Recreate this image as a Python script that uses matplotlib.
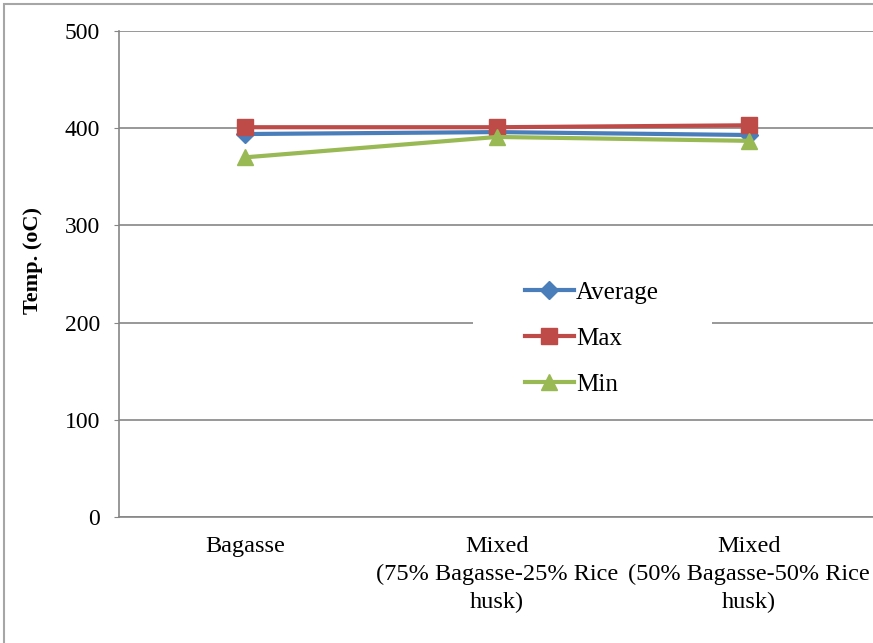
import matplotlib
matplotlib.use("Agg")
import matplotlib.pyplot as plt
from matplotlib.patches import Rectangle

categories = ["Bagasse",
              "Mixed\n(75% Bagasse-25% Rice\nhusk)",
              "Mixed\n(50% Bagasse-50% Rice\nhusk)"]
average = [394, 396, 393]
maximum = [401, 401, 403]
minimum = [370, 391, 387]
y_ticks = [0, 100, 200, 300, 400, 500]

plt.rcParams["font.family"] = ["Liberation Serif", "DejaVu Serif"]

W, H = 873, 643
fig = plt.figure(figsize=(W / 100, H / 100), dpi=100)
ax = fig.add_axes([119 / W, (H - 517) / H, 756 / W, 486 / H])

# outer chart border
fig.patches.append(Rectangle((4 / W, -0.01), 1.0, (H - 4) / H + 0.01,
                             transform=fig.transFigure, fill=False,
                             edgecolor="#a6a6a6", linewidth=1.5, zorder=0))

x = list(range(len(categories)))
ax.plot(x, average, color="#4A7EBB", linewidth=3, marker="D", markersize=9,
        label="Average", zorder=3)
ax.plot(x, maximum, color="#BE4B48", linewidth=3, marker="s", markersize=11,
        label="Max", zorder=4)
ax.plot(x, minimum, color="#98B954", linewidth=3, marker="^", markersize=12,
        label="Min", zorder=5)

ax.set_xlim(-0.5, len(categories) - 0.5)
ax.set_ylim(0, 500)
ax.set_yticks(y_ticks)
ax.set_yticklabels([str(t) for t in y_ticks], fontsize=17)
ax.set_xticks(x)
ax.set_xticklabels(categories, fontsize=17.5, linespacing=1.42)
ax.tick_params(axis="x", length=0, pad=14)
ax.tick_params(axis="y", length=3.6, color="#868686", pad=10, direction="out")
ax.yaxis.grid(True, color="#868686", linewidth=1.2)
ax.set_axisbelow(True)
for s in ["top", "right"]:
    ax.spines[s].set_visible(False)
for s in ["left", "bottom"]:
    ax.spines[s].set_color("#868686")
    ax.spines[s].set_linewidth(1.2)

fig.text(33 / W, 1 - 260 / H, "Temp. (oC)", rotation=90, ha="center",
         va="center", fontsize=16, fontweight="bold")

# white backdrop behind the legend
ax.add_patch(Rectangle(((473 - 119) / 756, (517 - 400) / 486),
                       (712 - 473) / 756, (400 - 268) / 486,
                       transform=ax.transAxes, facecolor="white",
                       edgecolor="none", zorder=1))

leg = ax.legend(loc="upper left",
                bbox_to_anchor=((525 - 119) / 756, (517 - 281) / 486),
                frameon=False, fontsize=18, handlelength=1.95,
                handletextpad=0.1, labelspacing=0.95, borderpad=0,
                borderaxespad=0)

fig.savefig("out.png", dpi=100)
